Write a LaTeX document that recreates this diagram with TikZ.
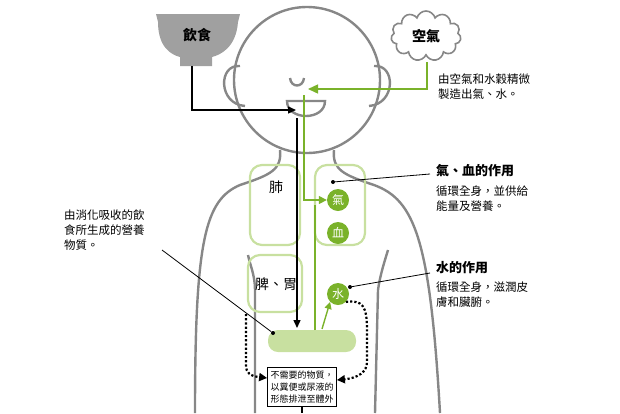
\documentclass[tikz,border=0pt]{standalone}
\usepackage{fontspec}
\setmainfont{Noto Sans CJK TC}
\usetikzlibrary{arrows.meta,shapes.symbols}
\definecolor{bodyGray}{RGB}{135,135,135}
\definecolor{bowlGray}{RGB}{160,160,160}
\definecolor{leafGreen}{RGB}{122,178,42}
\definecolor{paleGreen}{RGB}{200,224,160}
\tikzset{
  organ/.style={draw=paleGreen,line width=2.2pt,rounded corners=12pt},
  qibubble/.style={circle,fill=leafGreen,text=white,inner sep=1pt,minimum size=22pt,font=\fontsize{12}{12}\selectfont},
  note/.style={align=left,anchor=north west,font=\fontsize{11.5}{15}\selectfont,inner sep=0pt},
  heading/.style={anchor=north west,font=\fontsize{13}{15}\selectfont\bfseries,inner sep=0pt},
  pointer/.style={black,thick},
  dot/.style={circle,fill=black,inner sep=0pt,minimum size=4pt}
}
\begin{document}
\begin{tikzpicture}[x=1pt,y=-1pt]
		\useasboundingbox (0,0) rectangle (620,413);
		% body outline
		\begin{scope}[draw=bodyGray,line width=2.4pt]
			\draw (307,80) ellipse (73 and 73);
			\draw (240,66) .. controls (218,64) and (218,104) .. (245,106);
			\draw (374,66) .. controls (396,64) and (396,104) .. (369,106);
			\draw (280,150) .. controls (282,170) and (270,175) .. (240,185)
				.. controls (205,200) and (195,240) .. (195,413);
			\draw (334,150) .. controls (332,170) and (344,175) .. (374,185)
				.. controls (415,200) and (430,240) .. (440,413);
			\draw (255,413) -- (255,290) .. controls (255,275) and (250,265) .. (248,255);
			\draw (375,413) -- (378,290) .. controls (380,275) and (385,260) .. (388,250);
			\draw (290,78) .. controls (291,88) and (303,88) .. (304,78);
			\draw (287,101) -- (325,101) .. controls (325,121) and (287,121) .. cycle;
		\end{scope}
		% food and air
		\fill[bowlGray] (156,14) -- (240,14) -- (238,22)
			.. controls (236,48) and (220,55) .. (212,57) -- (212,66) -- (180,66) -- (180,57)
			.. controls (172,55) and (158,48) .. (158,22) -- cycle;
		\node (food) [font=\fontsize{14}{14}\selectfont\bfseries] at (197,35) {飲食};
		\node (air) [cloud,cloud puffs=11,draw=bodyGray,line width=1.6pt,aspect=1.4,
			font=\fontsize{14}{14}\selectfont\bfseries,minimum width=70pt,minimum height=50pt] at (426,36) {空氣};
		\node (airnote) [note] at (438,74) {由空氣和水穀精微\\製造出氣、水。};
		% organs
		\draw[organ] (250,165) rectangle (300,245);
		\draw[organ] (315,165) rectangle (365,245);
		\draw[organ] (248,255) rectangle (302,312);
		\node (lung) [font=\fontsize{14}{14}\selectfont] at (276,187) {肺};
		\node (stomach) [font=\fontsize{14}{14}\selectfont] at (276,284) {脾、胃};
		\node (essence) [fill=paleGreen,rounded corners=10pt,minimum width=88pt,
			minimum height=22pt] at (312,341) {};
		\node (qi) [qibubble] at (338,200) {氣};
		\node (blood) [qibubble] at (338,233) {血};
		\node (water) [qibubble] at (338,294) {水};
		% waste box
		\node (waste) [draw,thick,fill=white,align=center,font=\fontsize{9}{12}\selectfont,
			inner sep=3pt] at (302,387) {不需要的物質，\\以糞便或尿液的\\形態排泄至體外};
		% paths
		\coordinate (bowlfoot) at (192,66);
		\coordinate (mouth) at (296,110);
		\draw[black,line width=1.4pt,-{Triangle[length=8pt,width=7pt]}]
			(bowlfoot) |- (mouth);
		\draw[black,line width=1.4pt,-{Triangle[length=8pt,width=7pt]}]
			(297,118) -- (297,328);
		\coordinate (airfoot) at (427,62);
		\draw[leafGreen,line width=1.4pt,-{Triangle[length=10pt,width=9pt]}]
			(airfoot) |- (308,89);
		\draw[leafGreen,line width=1.4pt,-{Triangle[length=8pt,width=8pt]}]
			(304,95) |- (qi.west);
		\draw[leafGreen,line width=1.4pt] (315,330) -- (315,205);
		\draw[leafGreen,line width=1.4pt,-{Triangle[length=7pt,width=7pt]}]
			(322,329) -- (water.south west);
		% pointers
		\node (qidot) [dot] at (333,182) {};
		\node (qinote) [heading] at (436,164) {氣、血的作用};
		\node (qitext) [note] at (436,186) {循環全身，並供給\\能量及營養。};
		\draw[pointer] (qidot) -- (430,174);
		\node (waterdot) [dot] at (350,287) {};
		\node (waternote) [heading] at (436,261) {水的作用};
		\node (watertext) [note] at (436,282) {循環全身，滋潤皮\\膚和臟腑。};
		\draw[pointer] (waterdot) -- (430,273);
		\node (essdot) [dot] at (273,333) {};
		\node (essnote) [note] at (64,210) {由消化吸收的飲\\食所生成的營養\\物質。};
		\draw[pointer] (essdot) -- (162,250);
		% excretion
		\draw[black,line width=2.2pt,dotted,-{Triangle[length=8pt,width=8pt]}]
			(246,314) -- (246,365) .. controls (246,373) and (250,376) .. (waste.west |- 0,378);
		\draw[black,line width=2.2pt,dotted,-{Triangle[length=8pt,width=8pt]}]
			(water.south east) .. controls (362,300) and (367,305) .. (367,330)
			-- (367,362) .. controls (367,372) and (358,378) .. (waste.east |- 0,380);
		\draw[black,line width=1.4pt] (waste.south) -- (302,413);
\end{tikzpicture}
\end{document}
